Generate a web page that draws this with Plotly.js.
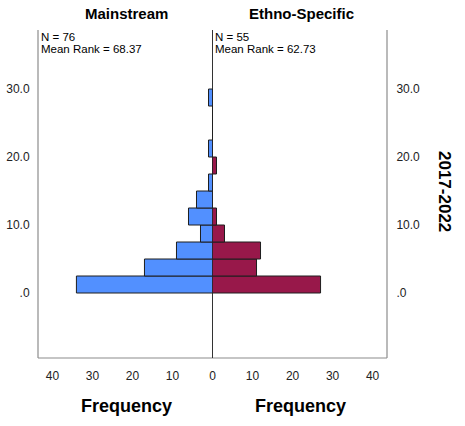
<!DOCTYPE html>
<html>
<head>
<meta charset="utf-8">
<script src="https://cdn.plot.ly/plotly-3.0.1.min.js"></script>
<style>html,body{margin:0;padding:0;background:#fff;}#chart{width:465px;height:426px;}</style>
</head>
<body>
<div id="chart"></div>
<script>
// Bin midpoints of the 2.5-wide intervals (value axis)
const binMids = [1.25, 3.75, 6.25, 8.75, 11.25, 13.75, 16.25, 18.75, 21.25, 23.75, 26.25, 28.75];
// Frequencies per bin
const mainstreamFreq = [34, 17, 9, 3, 6, 4, 1, 0, 1, 0, 0, 1];
const ethnoFreq      = [27, 11, 12, 3, 1, 0, 0, 1, 0, 0, 0, 0];
const groupNames = ["Mainstream", "Ethno-Specific"];
const groupN = [76, 55];
const meanRanks = ["68.37", "62.73"];
const yTickVals = [0, 10, 20, 30];
const yTickText = [".0", "10.0", "20.0", "30.0"];
const periodLabel = "2017-2022";
const xLabel = "Frequency";

const FONT = "Arial, 'Liberation Sans', sans-serif";
const W = 465, H = 426, L = 38, R = 78, T = 30, B = 68;
const pw = W - L - R, ph = H - T - B;
const px = v => (v - L) / pw;
const py = v => (H - B - v) / ph;

const traces = [
  {type: "bar", orientation: "h", y: binMids, x: mainstreamFreq, width: 2.5,
   xaxis: "x", yaxis: "y", marker: {color: "#5290FF", line: {color: "#1e1e1e", width: 1}},
   hoverinfo: "skip"},
  {type: "bar", orientation: "h", y: binMids, x: ethnoFreq, width: 2.5,
   xaxis: "x2", yaxis: "y2", marker: {color: "#98184A", line: {color: "#1e1e1e", width: 1}},
   hoverinfo: "skip"}
];

const yr = [-9.56, 38.68];
const tickFont = {family: FONT, size: 12, color: "#222"};
const layout = {
  width: W, height: H,
  margin: {l: L, r: R, t: T, b: B, pad: 0},
  paper_bgcolor: "#fff", plot_bgcolor: "#fff",
  showlegend: false,
  bargap: 0,
  font: {family: FONT, color: "#000"},
  xaxis: {domain: [0, 0.5], range: [43.6, 0], anchor: "y", tickvals: [10, 20, 30, 40],
          ticks: "outside", ticklen: 7, tickcolor: "rgba(0,0,0,0)", showgrid: false, zeroline: false,
          showline: false, tickfont: tickFont},
  xaxis2: {domain: [0.5, 1], range: [0, 43.6], anchor: "y2", tickvals: [0, 10, 20, 30, 40],
          ticks: "outside", ticklen: 7, tickcolor: "rgba(0,0,0,0)", showgrid: false, zeroline: false,
          showline: false, tickfont: tickFont},
  yaxis: {range: yr, anchor: "x", side: "left", tickvals: yTickVals, ticktext: yTickText,
          ticks: "outside", ticklen: 5, tickcolor: "rgba(0,0,0,0)", showgrid: false, zeroline: false,
          showline: false, tickfont: tickFont},
  yaxis2: {range: yr, anchor: "x2", side: "right", tickvals: yTickVals, ticktext: yTickText,
          ticks: "outside", ticklen: 6, tickcolor: "rgba(0,0,0,0)", showgrid: false, zeroline: false,
          showline: false, tickfont: tickFont},
  shapes: [
    {type: "line", xref: "paper", yref: "paper", x0: 0, x1: 0, y0: 0, y1: 1, line: {color: "#8c8c8c", width: 1.2}, layer: "below"},
    {type: "line", xref: "paper", yref: "paper", x0: 1, x1: 1, y0: 0, y1: 1, line: {color: "#8c8c8c", width: 1.2}, layer: "below"},
    {type: "line", xref: "paper", yref: "paper", x0: 0, x1: 1, y0: 0, y1: 0, line: {color: "#8c8c8c", width: 1.2}, layer: "below"},
    {type: "line", xref: "paper", yref: "paper", x0: 0.5, x1: 0.5, y0: 0, y1: 1, line: {color: "#333", width: 1}, layer: "below"}
  ],
  annotations: [
    {text: "<b>" + groupNames[0] + "</b>", xref: "paper", yref: "paper", x: px(126), y: py(14),
     showarrow: false, font: {family: FONT, size: 15, color: "#000"}, xanchor: "center", yanchor: "middle"},
    {text: "<b>" + groupNames[1] + "</b>", xref: "paper", yref: "paper", x: px(301), y: py(14),
     showarrow: false, font: {family: FONT, size: 15, color: "#000"}, xanchor: "center", yanchor: "middle"},
    {text: "N = " + groupN[0], xref: "paper", yref: "paper", x: px(39), y: py(37),
     showarrow: false, font: {family: FONT, size: 11.5, color: "#000"}, xanchor: "left", yanchor: "middle"},
    {text: "Mean Rank = " + meanRanks[0], xref: "paper", yref: "paper", x: px(39), y: py(49),
     showarrow: false, font: {family: FONT, size: 11.5, color: "#000"}, xanchor: "left", yanchor: "middle"},
    {text: "N = " + groupN[1], xref: "paper", yref: "paper", x: px(213), y: py(37),
     showarrow: false, font: {family: FONT, size: 11.5, color: "#000"}, xanchor: "left", yanchor: "middle"},
    {text: "Mean Rank = " + meanRanks[1], xref: "paper", yref: "paper", x: px(213), y: py(49),
     showarrow: false, font: {family: FONT, size: 11.5, color: "#000"}, xanchor: "left", yanchor: "middle"},
    {text: "<b>" + xLabel + "</b>", xref: "paper", yref: "paper", x: px(126), y: py(406),
     showarrow: false, font: {family: FONT, size: 18, color: "#000"}, xanchor: "center", yanchor: "middle"},
    {text: "<b>" + xLabel + "</b>", xref: "paper", yref: "paper", x: px(300), y: py(406),
     showarrow: false, font: {family: FONT, size: 18, color: "#000"}, xanchor: "center", yanchor: "middle"},
    {text: "<b>" + periodLabel + "</b>", xref: "paper", yref: "paper", x: px(445), y: py(192),
     showarrow: false, textangle: 90, font: {family: FONT, size: 17, color: "#000"}, xanchor: "center", yanchor: "middle"}
  ]
};

Plotly.newPlot("chart", traces, layout, {staticPlot: true, displayModeBar: false});
</script>
</body>
</html>
